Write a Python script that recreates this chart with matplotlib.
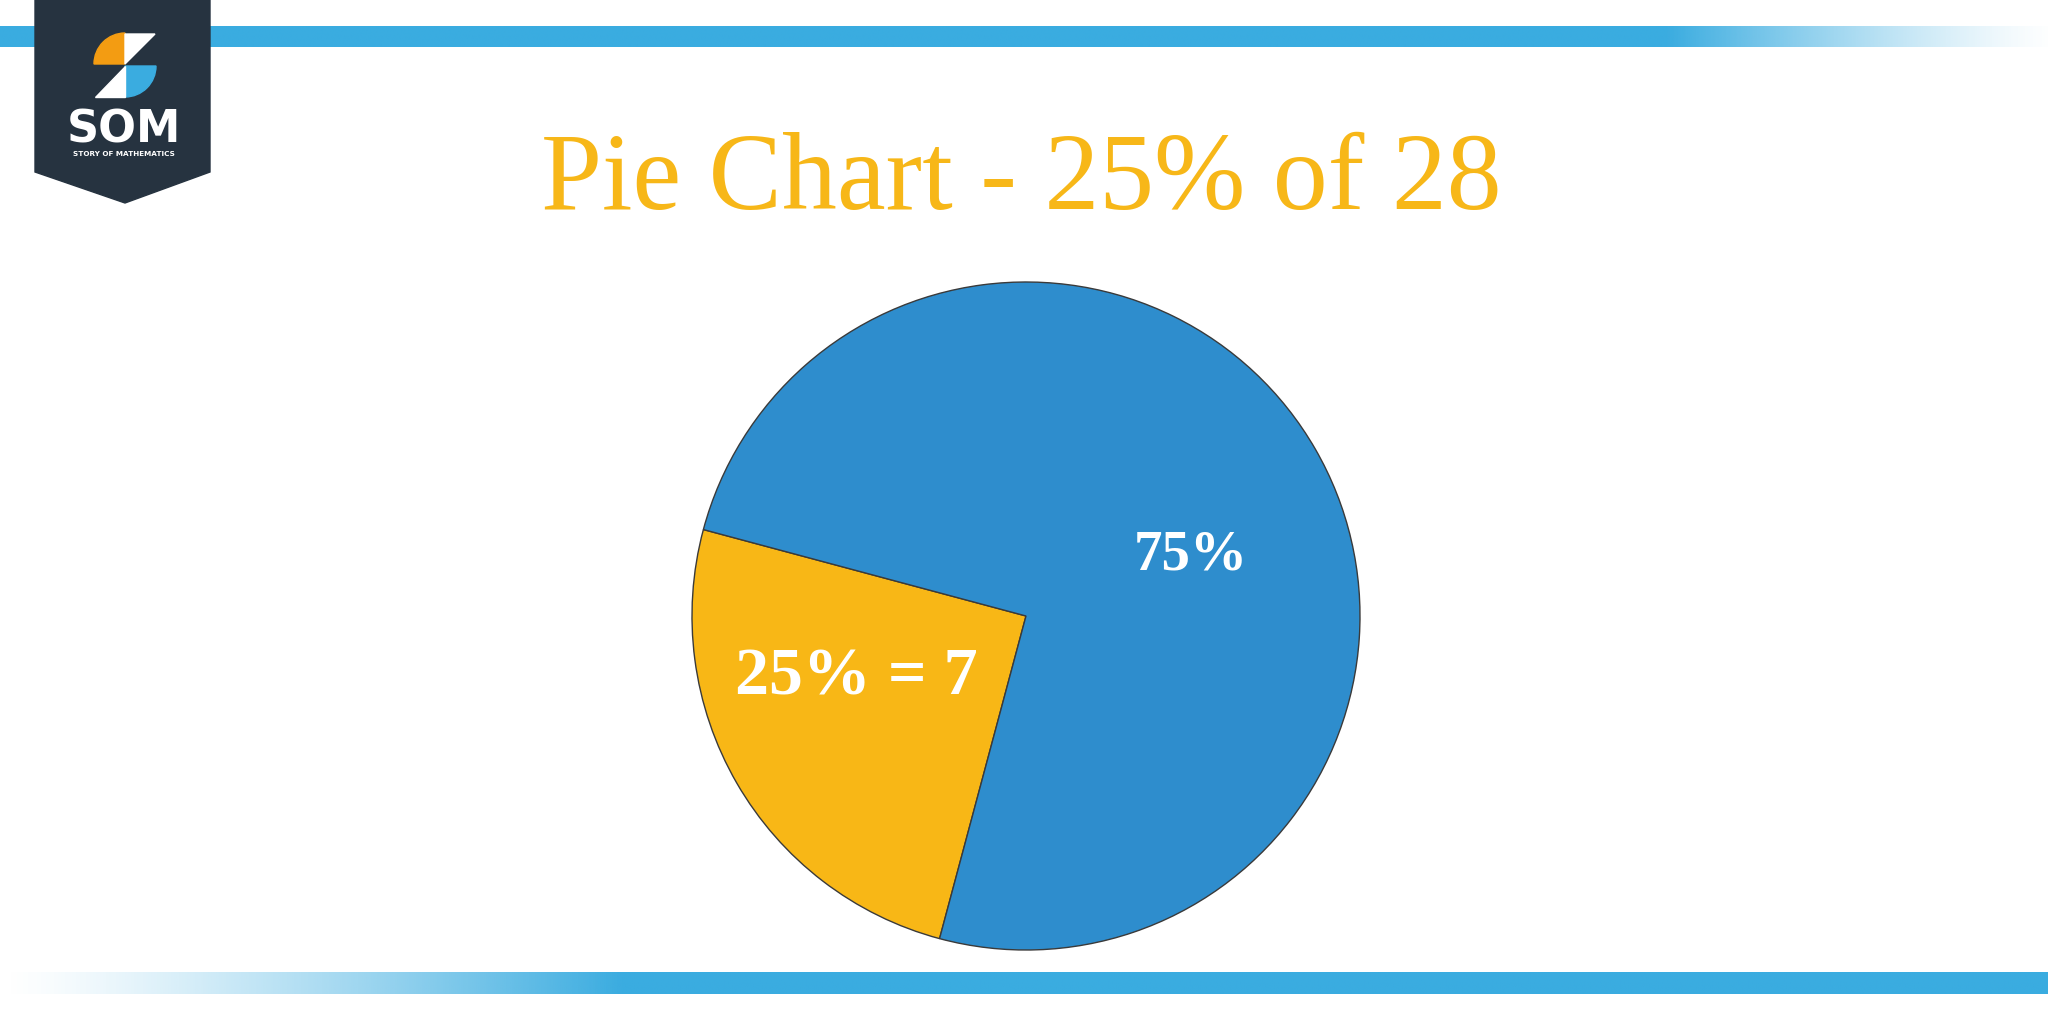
import numpy as np
import matplotlib.pyplot as plt
from matplotlib.patches import Polygon, Wedge
from matplotlib import font_manager as fm

# Данные
labels = ['25% = 7', '75%']
shares = [25, 75]
colors = ['#F8B716', '#2E8DCD']
title = 'Pie Chart - 25% of 28'

W, H = 2048, 1024
bar_blue = np.array([0x3A, 0xAC, 0xE0]) / 255

# шрифты Times-подобные
serif = fm.FontProperties(fname=fm.findfont(fm.FontProperties(family='Liberation Serif')))
serif_b = fm.FontProperties(fname=fm.findfont(fm.FontProperties(family='Liberation Serif', weight='bold')))

fig = plt.figure(figsize=(W / 100, H / 100), dpi=100)
ax = fig.add_axes([0, 0, 1, 1])


def bar(x0, x1, y0, y1, fade):
    # fade: массив прозрачности вдоль x
    img = np.ones((1, len(fade), 4))
    img[0, :, :3] = bar_blue
    img[0, :, 3] = fade
    ax.imshow(img, extent=[x0, x1, y0, y1], aspect='auto', interpolation='bilinear', zorder=1)


# верхняя полоса: сплошная, затем затухает вправо
n = 400
xs = np.linspace(0, W, n)
fade_top = np.clip(1 - (xs - 1670) / 390, 0, 1) ** 1.3
bar(0, W, H - 47, H - 26, fade_top)
# нижняя полоса: нарастает слева
fade_bot = np.clip(xs / 620, 0, 1) ** 1.3
bar(0, W, H - 994, H - 972, fade_bot)

# логотип
ax.add_patch(Polygon([(35, H), (210, H), (210, H - 172), (125, H - 203), (35, H - 172)],
                     closed=True, color='#263340', zorder=3))
ax.add_patch(Wedge((125, H - 64), 31, 90, 180, color='#F39C12', zorder=4))
ax.add_patch(Polygon([(125, H - 34), (155, H - 34), (125, H - 64)], color='white', zorder=4))
ax.add_patch(Wedge((125, H - 66), 31, 270, 360, color='#3AACE0', zorder=4))
ax.add_patch(Polygon([(125, H - 66), (125, H - 97), (95, H - 97)], color='white', zorder=4))
ax.text(124, H - 130, 'SOM', color='white', fontsize=32, fontweight='bold',
        family='DejaVu Sans', ha='center', va='center', zorder=5)
ax.text(124, H - 154, 'STORY OF MATHEMATICS', color='white', fontsize=5.2, fontweight='bold',
        family='DejaVu Sans', ha='center', va='center', zorder=5)

# заголовок
ax.text(1021, H - 182, title, color='#F7B718', fontsize=79, fontproperties=serif,
        ha='center', va='center')

# круговая диаграмма
ax.pie(shares, colors=colors, startangle=165, counterclock=True,
       center=(1026, H - 616), radius=334, frame=True,
       wedgeprops=dict(edgecolor='#3a3a3a', linewidth=1))
ax.set_xlim(0, W)
ax.set_ylim(0, H)
ax.axis('off')

ax.text(856, H - 678, labels[0], color='white', fontsize=49, fontproperties=serif_b,
        ha='center', va='center')
ax.text(1191, H - 555, labels[1], color='white', fontsize=41, fontproperties=serif_b,
        ha='center', va='center')

fig.savefig('out.png', dpi=100)
